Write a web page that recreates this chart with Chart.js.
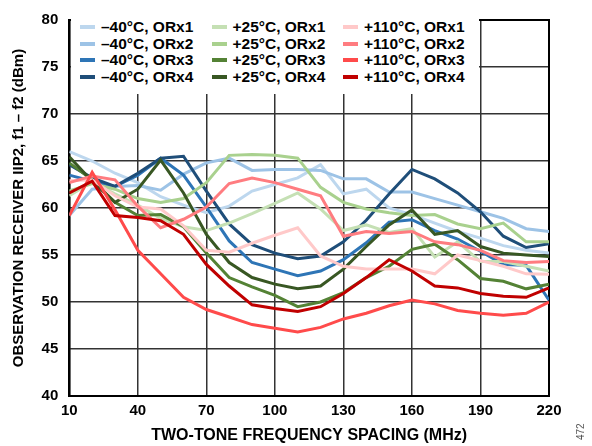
<!DOCTYPE html>
<html>
<head>
<meta charset="utf-8">
<script src="https://cdn.jsdelivr.net/npm/chart.js@4/dist/chart.umd.min.js"></script>
<style>
html,body{margin:0;padding:0;background:#fff;}
#wrap{position:relative;width:592px;height:446px;font-family:"Liberation Sans",Arial,sans-serif;}
#legend{position:absolute;left:71px;top:15px;width:408px;height:79px;background:#fff;}
.item{position:absolute;font-weight:bold;font-size:15.5px;color:#000;white-space:nowrap;line-height:16px;}
.sw{position:absolute;width:15px;height:4px;}
#code{position:absolute;left:575px;top:420px;font-size:10px;color:#555;transform:rotate(-90deg);transform-origin:left top;}
</style>
</head>
<body>
<div id="wrap">
<canvas id="c" width="592" height="446"></canvas>
<div id="legend"></div>
<div id="code" style="top:440px;">472</div>
</div>
<script>
const freqs = [10,20,30,40,50,60,70,80,90,100,110,120,130,140,150,160,170,180,190,200,210,220];
const xTicks = [10,40,70,100,130,160,190,220];

const m40_orx1 = [66.0,65.0,63.7,62.7,61.2,60.3,59.5,60.2,61.8,62.5,63.2,64.6,61.5,62.0,60.0,59.3,58.4,57.5,56.8,56.0,55.5,55.2];
const m40_orx2 = [59.2,62.0,62.3,62.4,61.9,63.6,64.8,65.3,64.0,64.1,64.1,64.0,63.1,63.1,61.7,61.7,61.0,60.3,59.6,58.9,57.8,57.5];
const m40_orx3 = [63.5,62.85,62.3,63.5,65.3,63.5,60.1,56.5,54.2,53.5,52.8,53.3,54.5,56.3,58.5,58.75,57.6,56.7,55.4,54.0,53.9,50.2];
const m40_orx4 = [64.6,63.2,62.3,63.7,65.3,65.5,61.8,58.3,56.1,55.2,54.6,54.9,56.4,58.7,61.5,64.1,63.1,61.6,59.6,57.0,55.8,56.2];
const p25_orx1 = [61.3,62.8,61.5,60.3,58.9,58.0,57.6,58.4,59.4,60.5,61.6,59.9,57.6,58.2,57.4,57.8,54.8,56.4,54.3,54.3,53.8,53.3];
const p25_orx2 = [61.8,62.6,62.0,61.0,60.6,61.0,62.7,65.6,65.7,65.6,65.3,62.2,60.6,59.9,59.5,59.2,59.3,58.3,57.8,58.4,56.4,56.4];
const p25_orx3 = [64.8,63.0,60.6,59.2,59.3,58.0,55.2,52.6,51.6,50.7,49.5,50.0,51.0,52.6,53.8,55.6,56.15,54.5,52.5,52.2,51.4,51.9];
const p25_orx4 = [65.45,62.85,60.6,62.0,65.1,61.6,57.2,54.2,52.6,51.9,51.4,51.7,53.5,55.9,58.2,59.8,57.2,57.6,55.9,55.2,55.0,54.85];
const p110_orx1 = [62.9,63.0,61.3,60.1,59.9,58.1,55.5,55.3,56.25,57.1,57.9,54.9,53.8,53.5,53.5,53.5,53.0,55.0,54.4,53.8,53.0,52.95];
const p110_orx2 = [62.7,63.4,63.0,60.2,57.9,58.8,60.1,62.6,63.2,62.7,62.0,61.3,57.0,57.5,57.3,57.5,56.4,56.1,55.5,54.4,54.2,54.3];
const p110_orx3 = [59.2,63.8,59.8,55.5,53.0,50.5,49.2,48.4,47.6,47.2,46.8,47.3,48.2,48.8,49.6,50.2,49.8,49.1,48.8,48.6,48.8,50.0];
const p110_orx4 = [61.6,62.85,59.2,59.0,58.65,57.2,54.0,51.7,49.7,49.3,49.0,49.5,50.9,52.6,54.5,53.3,51.7,51.5,50.9,50.6,50.5,51.5];

const labels = ["\u201340\u00B0C, ORx1","\u201340\u00B0C, ORx2","\u201340\u00B0C, ORx3","\u201340\u00B0C, ORx4",
  "+25\u00B0C, ORx1","+25\u00B0C, ORx2","+25\u00B0C, ORx3","+25\u00B0C, ORx4",
  "+110\u00B0C, ORx1","+110\u00B0C, ORx2","+110\u00B0C, ORx3","+110\u00B0C, ORx4"];
const series = [m40_orx1,m40_orx2,m40_orx3,m40_orx4,p25_orx1,p25_orx2,p25_orx3,p25_orx4,p110_orx1,p110_orx2,p110_orx3,p110_orx4];
const colors = ["#bdd7ee","#9dc3e6","#2e75b6","#1f4e79","#c5e0b4","#a9d18e","#548235","#385723","#ffc9c9","#ff7c80","#ff4b4b","#c00000"];

const datasets = series.map((s,i)=>({
  label: labels[i],
  data: s.map((v,j)=>({x:freqs[j], y:v})),
  borderColor: colors[i],
  backgroundColor: colors[i],
  borderWidth: 3,
  pointRadius: 0,
  tension: 0,
  fill: false,
  order: 12 - i
}));

// HTML legend
const leg = document.getElementById('legend');
labels.forEach((l,i)=>{
  const col = Math.floor(i/4), row = i%4;
  const sw = document.createElement('div');
  sw.className='sw'; sw.style.background=colors[i];
  sw.style.left=(9+col*131.5)+'px'; sw.style.top=(10+row*16.5)+'px';
  leg.appendChild(sw);
  const t = document.createElement('div');
  t.className='item'; t.textContent=l;
  t.style.left=(30+col*131.5)+'px'; t.style.top=(4+row*16.5)+'px';
  leg.appendChild(t);
});

const frame = {
  id:'frame',
  beforeDatasetsDraw(chart){
    const a = chart.chartArea, ctx = chart.ctx;
    ctx.save(); ctx.strokeStyle='#000'; ctx.lineWidth=2;
    ctx.strokeRect(a.left, a.top, a.right-a.left, a.bottom-a.top);
    ctx.restore();
  }
};

const font = {family:'"Liberation Sans", Arial, sans-serif', weight:'bold'};
new Chart(document.getElementById('c'), {
  type:'line',
  data:{datasets},
  options:{
    responsive:false, animation:false, devicePixelRatio:1,
    layout:{padding:{top:12,right:43,left:0,bottom:0}},
    plugins:{legend:{display:false}, tooltip:{enabled:false}},
    scales:{
      x:{type:'linear', min:10, max:220,
        afterBuildTicks(s){ s.ticks = xTicks.map(v=>({value:v})); },
        afterFit(s){ s.height = 50; },
        grid:{color:'#333', lineWidth:1.5, drawTicks:false},
        border:{color:'#000', width:2},
        ticks:{font:{...font,size:15}, color:'#000', padding:6, maxRotation:0, autoSkip:false},
        title:{display:true, text:'TWO-TONE FREQUENCY SPACING (MHz)', font:{...font,size:16}, color:'#000', padding:{top:0,bottom:1}}
      },
      y:{min:40, max:80,
        afterFit(s){ s.width = 69.3; },
        grid:{color:'#333', lineWidth:1.5, drawTicks:false},
        border:{color:'#000', width:2},
        ticks:{stepSize:5, font:{...font,size:15}, color:'#000', padding:11},
        title:{display:true, text:'OBSERVATION RECEIVER IIP2, f1 \u2013 f2 (dBm)', font:{...font,size:15}, color:'#000', padding:{top:10,bottom:0}}
      }
    }
  },
  plugins:[frame]
});
</script>
</body>
</html>
